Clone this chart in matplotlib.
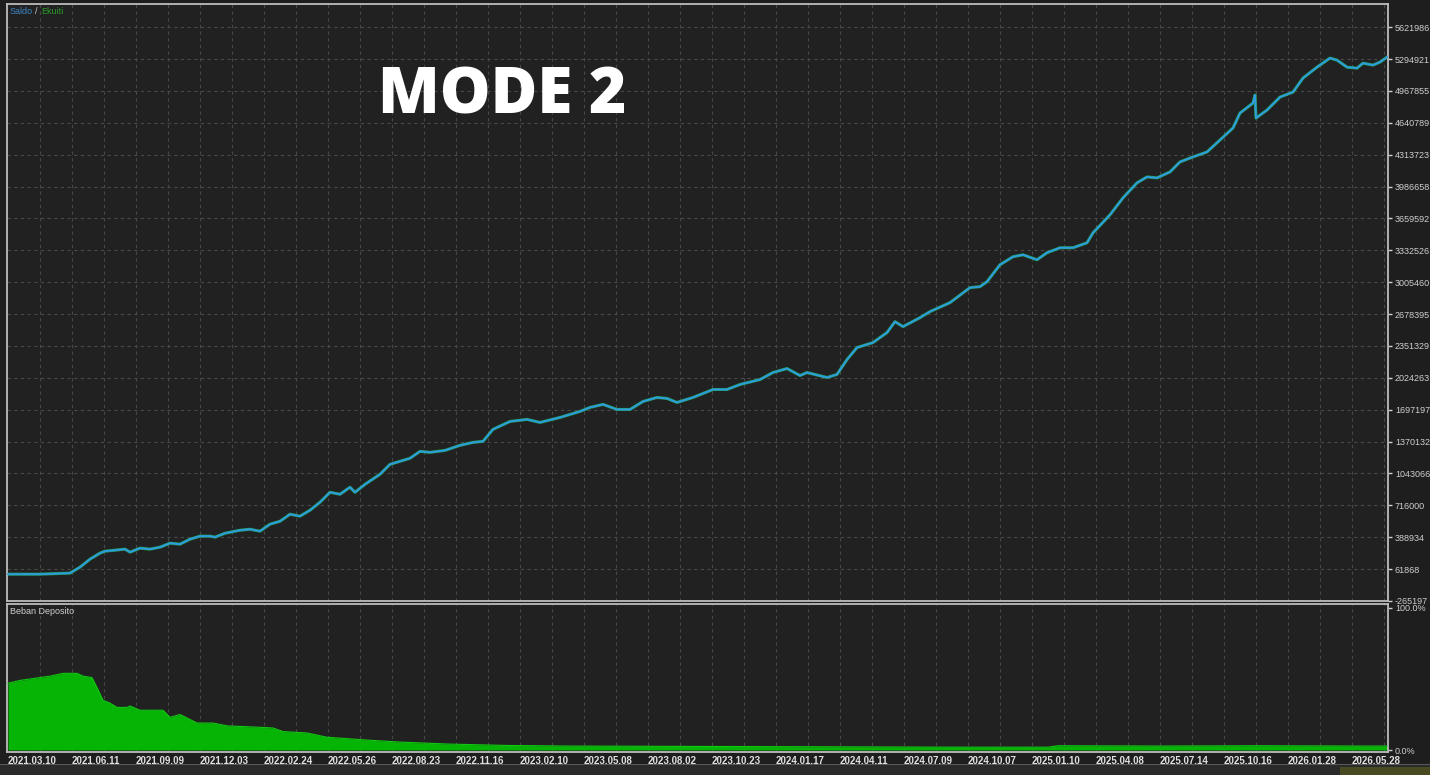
import matplotlib
matplotlib.use("Agg")
import matplotlib.pyplot as plt
from matplotlib.patches import Rectangle

# balance curve (deal number -> balance)
deal_no = [0, 32, 62, 72, 82, 92, 97, 107, 117, 122, 132, 142, 152, 162, 172, 182,
           192, 202, 207, 217, 232, 242, 252, 262, 272, 282, 292, 302, 312, 322,
           332, 342, 347, 357, 372, 382, 392, 402, 412, 422, 437, 452, 465, 475,
           485, 502, 519, 532, 552, 572, 582, 595, 609, 622, 635, 649, 659, 669,
           685, 705, 719, 732, 752, 765, 779, 792, 799, 819, 829, 839, 849, 865,
           879, 887, 895, 912, 922, 942, 962, 972, 979, 992, 1005, 1015, 1029,
           1039, 1052, 1065, 1079, 1085, 1102, 1115, 1129, 1139, 1149, 1162,
           1172, 1185, 1199, 1212, 1225, 1232, 1245, 1247, 1248, 1259, 1272,
           1285, 1295, 1309, 1322, 1329, 1339, 1349, 1355, 1365, 1372, 1379]
balance = [10000, 10000, 21000, 82000, 164000, 226000, 246000, 256000, 267000,
           236000, 277000, 267000, 287000, 328000, 318000, 369000, 400000, 400000,
           390000, 430000, 461000, 471000, 451000, 523000, 553000, 625000, 605000,
           666000, 748000, 850000, 830000, 902000, 850000, 932000, 1035000,
           1137000, 1168000, 1199000, 1270000, 1260000, 1280000, 1332000, 1362000,
           1373000, 1496000, 1577000, 1598000, 1567000, 1618000, 1680000, 1721000,
           1752000, 1700000, 1700000, 1782000, 1823000, 1813000, 1772000, 1823000,
           1905000, 1905000, 1956000, 2007000, 2079000, 2120000, 2048000, 2079000,
           2028000, 2059000, 2212000, 2335000, 2386000, 2489000, 2601000, 2550000,
           2642000, 2704000, 2796000, 2950000, 2960000, 3011000, 3185000, 3267000,
           3287000, 3236000, 3308000, 3359000, 3359000, 3410000, 3512000, 3697000,
           3871000, 4025000, 4086000, 4076000, 4137000, 4240000, 4291000, 4342000,
           4465000, 4588000, 4741000, 4844000, 4926000, 4690000, 4772000, 4905000,
           4956000, 5100000, 5212000, 5305000, 5284000, 5212000, 5202000, 5253000,
           5233000, 5264000, 5315000]
equity = balance

# deposit load in percent
load_deal = [0, 12, 32, 42, 55, 69, 75, 84, 89, 95, 102, 109, 119, 122, 132, 155,
             162, 172, 189, 205, 219, 252, 265, 275, 299, 319, 359, 392, 440, 500,
             560, 650, 750, 850, 950, 1040, 1050, 1150, 1250, 1350, 1379]
load_pct = [47, 49, 51, 52, 54, 54, 52, 51, 44, 35, 33, 30, 30, 31, 28, 28,
            23, 25, 19, 19, 17, 16, 15.5, 13, 12, 9, 7, 5.6, 4.2, 3.2,
            2.8, 2.6, 2.4, 2.2, 2.0, 2.0, 3.0, 2.8, 3.0, 2.8, 2.8]

x_labels = ["2021.03.10", "2021.06.11", "2021.09.09", "2021.12.03", "2022.02.24",
            "2022.05.26", "2022.08.23", "2022.11.16", "2023.02.10", "2023.05.08",
            "2023.08.02", "2023.10.23", "2024.01.17", "2024.04.11", "2024.07.09",
            "2024.10.07", "2025.01.10", "2025.04.08", "2025.07.14", "2025.10.16",
            "2026.01.28", "2026.05.28"]
y_ticks = [5621986, 5294921, 4967855, 4640789, 4313723, 3986658, 3659592,
           3332526, 3005460, 2678395, 2351329, 2024263, 1697197, 1370132,
           1043066, 716000, 388934, 61868, -265197]

BG = "#1e1e1e"
PANEL = "#212121"
GRID = "#484848"
FRAME = "#bdbdbd"
TXT = "#cfcfcf"
FONT = "Liberation Sans"

W, H = 1430, 775
fig = plt.figure(figsize=(W / 100, H / 100), dpi=100, facecolor=BG)


def box(x0, y0, x1, y1):
    # pixel box -> figure coords
    return [x0 / W, 1 - y1 / H, (x1 - x0) / W, (y1 - y0) / H]


ax = fig.add_axes(box(7, 4, 1388, 601))
ax2 = fig.add_axes(box(7, 604, 1388, 752), sharex=ax)

step = 64
tick_pos = [i * step for i in range(len(x_labels))]
grid_pos = [i * step // 2 for i in range(1, 2 * len(x_labels) + 1)]

for a in (ax, ax2):
    a.set_facecolor(PANEL)
    for s in a.spines.values():
        s.set_color(FRAME)
        s.set_linewidth(1.3)
    for g in grid_pos:
        a.axvline(g, color=GRID, lw=0.8, ls=(0, (3, 3)), zorder=0)
    a.yaxis.tick_right()
    a.tick_params(axis="y", colors=TXT, labelsize=6.5, length=3, width=1,
                  direction="out", pad=2)

ax.set_xlim(-1, 1380)

# balance / equity panel
ax.set_ylim(-265197, 5860000)
ax.set_yticks(y_ticks)
ax.set_yticklabels([str(v) for v in y_ticks], family=FONT)
for v in y_ticks:
    ax.axhline(v, color=GRID, lw=0.8, ls=(0, (3, 3)), zorder=0)
ax.plot(deal_no, equity, color="#1f9a50", lw=2.2, zorder=2)
ax.plot(deal_no, balance, color="#2e9ce0", lw=1.4, zorder=3)
ax.tick_params(axis="x", bottom=False, labelbottom=False)

fig.text(10 / W, 1 - 11 / H, "Saldo", color="#3c88c8", fontsize=6.5,
         family=FONT, va="center", ha="left")
fig.text(35 / W, 1 - 11 / H, "/", color=TXT, fontsize=6.5,
         family=FONT, va="center", ha="left")
fig.text(41 / W, 1 - 11 / H, "Ekuiti", color="#2a9a2a", fontsize=6.5,
         family=FONT, va="center", ha="left")

fig.text(378 / W, 1 - 97 / H, "MODE 2", color="white", fontsize=46,
         fontweight="heavy", family="Open Sans", va="center", ha="left")

# deposit load panel
ax2.set_ylim(-1.4, 102.8)
ax2.set_yticks([100, 0])
ax2.set_yticklabels(["100.0%", "0.0%"], family=FONT)
ax2.fill_between(load_deal, 0, load_pct, color="#06b406", lw=0, zorder=2)
ax2.plot(load_deal, load_pct, color="#12c812", lw=0.8, zorder=3)
fig.text(10 / W, 1 - 611 / H, "Beban Deposito", color=TXT, fontsize=6.5,
         family=FONT, va="center", ha="left")

ax2.set_xticks(tick_pos)
ax2.set_xticklabels(x_labels, ha="left", family=FONT, fontweight="bold")
ax2.tick_params(axis="x", colors="#e0e0e0", labelsize=7, length=0, pad=3)

# bottom tab strip
fig.patches.append(Rectangle((0, 0), 1, 10 / H, transform=fig.transFigure,
                             facecolor="#2a2a2a", edgecolor="none"))
fig.patches.append(Rectangle((0, 10 / H), 1, 1.5 / H, transform=fig.transFigure,
                             facecolor="#5a5a5a", edgecolor="none"))
fig.patches.append(Rectangle((1340 / W, 0), 90 / W, 8 / H, transform=fig.transFigure,
                             facecolor="#4a4a22", edgecolor="none"))

fig.savefig("out.png", dpi=100, facecolor=BG)
